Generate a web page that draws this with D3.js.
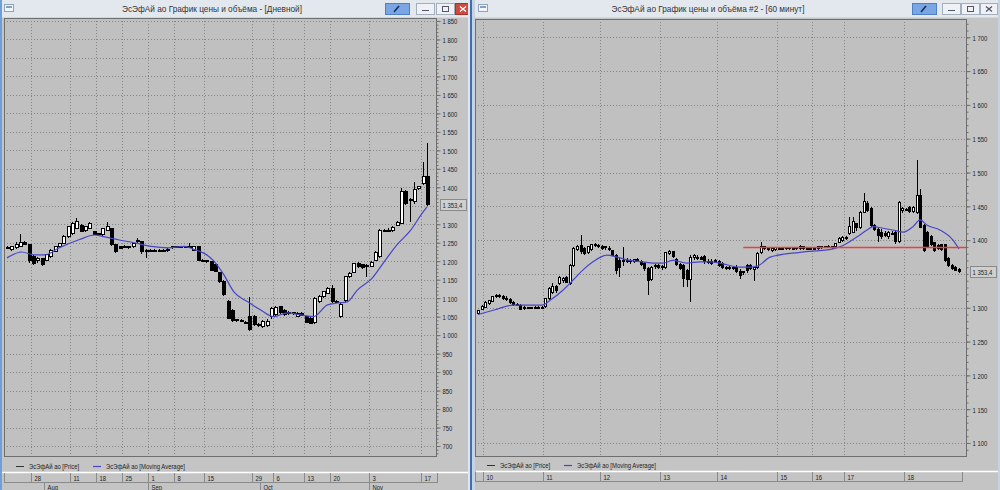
<!DOCTYPE html>
<html><head><meta charset="utf-8">
<script src="https://cdn.jsdelivr.net/npm/d3@7"></script>
<style>
html,body{margin:0;padding:0;background:#c4c4c4;overflow:hidden;}
svg{display:block;font-family:"Liberation Sans",Arial,sans-serif;}
</style></head><body>
<svg id="c" width="1000" height="490"></svg>
<script>
// ---------------- DATA ----------------
// Daily candles [open, high, low, close]
const leftOHLC = [
[1238,1242,1232,1235],[1232,1242,1228,1240],[1236,1252,1234,1244],[1240,1275,1238,1252],[1250,1254,1244,1246],
[1244,1246,1195,1203],[1212,1216,1190,1194],[1202,1212,1196,1208],[1208,1210,1186,1190],[1203,1220,1200,1217],
[1212,1232,1210,1230],[1226,1242,1224,1239],[1239,1250,1236,1248],[1248,1270,1246,1266],[1266,1295,1262,1293],
[1275,1305,1272,1302],[1289,1316,1286,1307],[1298,1300,1278,1280],[1284,1296,1280,1293],[1289,1305,1286,1302],
[1280,1282,1270,1271],[1275,1277,1268,1271],[1271,1290,1268,1289],[1284,1307,1282,1293],[1289,1291,1242,1244],
[1244,1246,1222,1226],[1239,1242,1232,1235],[1240,1243,1236,1238],[1237,1240,1234,1239],[1239,1248,1237,1248],
[1253,1262,1250,1257],[1253,1256,1220,1226],[1230,1233,1208,1228],[1230,1233,1226,1228],[1228,1232,1226,1230],
[1230,1233,1226,1229],[1228,1232,1225,1230],[1232,1236,1226,1233],[1236,1240,1234,1239],[1239,1242,1236,1240],
[1240,1242,1237,1238],[1238,1242,1236,1240],[1239,1250,1237,1241],[1230,1242,1228,1239],[1239,1241,1200,1203],
[1203,1205,1198,1200],[1199,1203,1196,1201],[1199,1201,1174,1176],[1190,1192,1170,1172],[1170,1172,1140,1145],
[1145,1148,1105,1109],[1091,1094,1044,1046],[1068,1072,1035,1040],[1041,1045,1036,1040],[1040,1044,1035,1039],
[1034,1038,1030,1033],[1050,1104,1012,1014],[1050,1055,1025,1028],[1030,1034,1022,1026],[1024,1040,1020,1036],
[1026,1044,1022,1038],[1050,1077,1045,1073],[1055,1080,1052,1075],[1077,1079,1058,1060],[1068,1070,1052,1055],
[1060,1064,1055,1058],[1059,1062,1055,1060],[1050,1062,1048,1058],[1059,1062,1052,1054],[1050,1052,1032,1034],
[1045,1048,1030,1032],[1033,1104,1030,1100],[1090,1108,1088,1104],[1104,1120,1100,1118],[1114,1130,1112,1127],
[1127,1136,1088,1091],[1091,1094,1086,1090],[1050,1090,1046,1082],[1093,1160,1090,1158],[1158,1172,1155,1168],
[1170,1195,1168,1194],[1194,1197,1183,1185],[1190,1192,1180,1183],[1185,1192,1157,1188],[1187,1200,1185,1196],
[1203,1228,1200,1224],[1212,1287,1208,1282],[1281,1288,1278,1283],[1283,1290,1280,1282],[1283,1295,1280,1292],
[1298,1310,1296,1306],[1303,1398,1300,1388],[1388,1392,1352,1357],[1366,1372,1306,1368],[1361,1414,1355,1393],
[1396,1404,1392,1402],[1411,1469,1405,1429],[1429,1520,1350,1353.4]
];
// Moving average: [candle index, value]
const leftMA = [
[0,1209],[3.4,1225],[6.4,1217],[8.7,1217],[12,1236],[16.6,1258],[20.2,1271],[22.5,1266],[25.7,1258],
[29.4,1250],[33.3,1240],[37.2,1236],[40.9,1240],[42.5,1235],[47.8,1200],[50.1,1163],[52.4,1117],
[55.6,1090],[58.6,1068],[61.6,1050],[64.8,1060],[67.8,1055],[70.8,1050],[74,1082],[76.3,1087],
[78.6,1090],[80.9,1122],[84.4,1155],[86.9,1195],[90.1,1245],[93.1,1282],[95.9,1330],[97,1347]
];
const leftYTicks = [700,750,800,850,900,950,1000,1050,1100,1150,1200,1250,1300,1350,1400,1450,1500,1550,1600,1650,1700,1750,1800,1850];
const leftYLabelTicks = [700,750,800,850,900,950,1000,1050,1100,1150,1200,1250,1300,1400,1450,1500,1550,1600,1650,1700,1750,1800,1850];
const leftXTickIdx = [6,15,21,27,33,39,46,57,62,69,75,84,96];
const leftXTickLabels = ["28","11","18","25","1","8","15","29","6","13","20","3","17"];
const leftMonthIdx = [9,33,59,84];
const leftMonthLabels = ["Aug","Sep","Oct","Nov"];

// Hourly candles [open, high, low, close]
const rightOHLC = [
[1292,1297,1290,1296],[1298,1304,1296,1302],[1301,1310,1300,1308],[1306,1312,1304,1311],[1309,1318,1308,1316],
[1316,1320,1314,1318],[1318,1320,1315,1317],[1317,1319,1312,1313],[1314,1317,1310,1312],[1312,1314,1306,1308],
[1308,1310,1303,1305],[1305,1307,1302,1303],[1304,1306,1296,1298],[1300,1302,1296,1299],[1299,1301,1298,1300],
[1300,1301,1299,1300],[1300,1302,1299,1301],[1301,1302,1299,1300],[1300,1302,1298,1301],[1302,1315,1300,1313],
[1314,1331,1312,1329],[1322,1336,1320,1332],[1332,1334,1322,1325],[1336,1347,1334,1345],[1340,1346,1336,1344],
[1345,1347,1336,1338],[1336,1365,1334,1363],[1363,1390,1361,1388],[1386,1393,1384,1390],[1392,1408,1380,1383],
[1388,1390,1378,1380],[1381,1392,1379,1390],[1386,1395,1384,1393],[1392,1396,1390,1394],[1392,1394,1388,1390],
[1390,1393,1386,1388],[1389,1392,1386,1390],[1388,1391,1384,1386],[1384,1386,1376,1378],[1377,1379,1350,1355],
[1370,1374,1345,1360],[1368,1390,1362,1370],[1370,1373,1366,1368],[1368,1372,1365,1370],[1369,1372,1366,1371],
[1371,1373,1367,1369],[1368,1370,1362,1364],[1366,1368,1355,1358],[1358,1360,1319,1341],[1342,1362,1340,1360],
[1361,1364,1358,1362],[1362,1364,1357,1359],[1359,1363,1356,1361],[1360,1383,1358,1382],[1380,1385,1378,1383],
[1383,1384,1374,1376],[1372,1374,1362,1364],[1364,1366,1356,1358],[1362,1364,1331,1344],[1355,1358,1330,1342],
[1342,1378,1308,1375],[1374,1380,1370,1377],[1375,1378,1370,1373],[1374,1376,1370,1372],[1376,1378,1365,1368],
[1368,1372,1364,1367],[1368,1372,1363,1365],[1370,1372,1366,1368],[1368,1370,1360,1362],[1366,1368,1358,1360],
[1360,1362,1356,1358],[1358,1362,1356,1360],[1360,1362,1356,1358],[1360,1363,1352,1354],[1354,1358,1343,1348],
[1352,1355,1348,1353],[1362,1364,1352,1355],[1362,1364,1356,1358],[1356,1360,1340,1359],[1360,1382,1358,1380],
[1382,1397,1380,1390],[1390,1392,1385,1387],[1386,1389,1384,1387],[1385,1390,1383,1388],[1386,1390,1384,1389],
[1387,1390,1385,1388],[1388,1390,1386,1388],[1388,1390,1386,1389],[1389,1390,1386,1387],[1387,1389,1385,1388],
[1388,1390,1386,1389],[1388,1393,1386,1391],[1390,1392,1386,1388],[1388,1390,1386,1387],[1388,1390,1386,1388],
[1387,1389,1385,1388],[1388,1391,1386,1390],[1390,1392,1387,1389],[1389,1392,1388,1391],[1391,1393,1388,1390],
[1390,1392,1387,1391],[1390,1396,1389,1395],[1397,1404,1396,1403],[1399,1406,1397,1404],[1403,1406,1400,1404],
[1410,1434,1408,1420],[1412,1434,1410,1428],[1424,1426,1414,1418],[1418,1443,1416,1441],[1441,1469,1440,1457],
[1454,1458,1442,1444],[1447,1449,1420,1422],[1422,1424,1413,1416],[1416,1418,1397,1407],[1412,1416,1402,1405],
[1410,1413,1404,1407],[1405,1414,1402,1412],[1410,1413,1407,1409],[1411,1413,1395,1398],[1398,1458,1396,1456],
[1444,1449,1440,1447],[1445,1448,1443,1446],[1448,1450,1440,1442],[1442,1450,1440,1448],[1441,1519,1438,1466],
[1466,1475,1418,1419],[1422,1424,1383,1385],[1411,1413,1388,1390],[1405,1407,1391,1393],[1396,1398,1383,1385],
[1392,1394,1386,1388],[1393,1395,1384,1386],[1393,1395,1368,1370],[1373,1375,1360,1362],[1362,1364,1356,1358],
[1360,1362,1354,1355],[1357,1359,1351,1353.4]
];
const rightMA = [
[0,1290],[4.8,1297],[9.9,1304],[18.1,1304],[20.4,1311],[24,1326],[26.9,1341],[29.7,1356],[32.5,1368],
[36.5,1378],[39.3,1375],[43,1370],[46.6,1368],[49.5,1366],[52.3,1366],[55.1,1370],[59.1,1366],[62.8,1368],
[65.6,1368],[68.4,1366],[74.1,1360],[76.9,1360],[79.2,1362],[82.6,1375],[91,1382],[100.4,1387],[103.2,1392],
[107.2,1405],[110,1415],[111.7,1420],[114.2,1418],[117.3,1415],[120.2,1412],[123,1420],[125,1430],[127,1422],
[130.6,1415],[134.3,1400],[136,1387]
];
const rightYTicks = [1100,1150,1200,1250,1300,1350,1400,1450,1500,1550,1600,1650,1700];
const rightYLabelTicks = [1100,1150,1200,1250,1300,1400,1450,1500,1550,1600,1650,1700];
const rightXTickIdx = [2,19,35,52,68,85,95,104,121];
const rightXTickLabels = ["10","11","12","13","14","15","16","17","18"];
const rightLevel = 1390;          // red horizontal level
const rightLevelStartIdx = 75;
const lastPrice = 1353.4;
const lastPriceLabel = "1 353,4";

const leftTitle = "ЭсЭфАй ао График цены и объёма - [Дневной]";
const rightTitle = "ЭсЭфАй ао График цены и объёма #2 - [60 минут]";
const legendPrice = "ЭсЭфАй ао [Price]";
const legendMA = "ЭсЭфАй ао [Moving Average]";

// ---------------- DRAWING ----------------
const svg = d3.select('#c');
const SX = 0.74;
function txt(parent, x, y, s, o = {}) {
  return parent.append('text')
    .attr('transform', `translate(${x},${y}) scale(${o.sx || SX},1)`)
    .attr('font-size', o.size || 8)
    .attr('text-anchor', o.anchor || 'start')
    .attr('dominant-baseline', 'central')
    .attr('fill', o.fill || '#1e1e1e')
    .text(s);
}
const fmtY = v => v >= 1000 ? Math.floor(v / 1000) + ' ' + String(v % 1000).padStart(3, '0') : String(v);

function windowChrome(o) {
  const g = svg.append('g');
  g.append('rect').attr('x', o.wx).attr('y', 0).attr('width', o.ww).attr('height', 490).attr('fill', '#c4c4c4');
  g.append('rect').attr('x', o.wx).attr('y', 0).attr('width', o.ww).attr('height', 17).attr('fill', '#e3e8ee');
  g.append('line').attr('x1', o.wx).attr('x2', o.wx + o.ww).attr('y1', 17.5).attr('y2', 17.5).attr('stroke', '#d2d8df');
  g.append('rect').attr('x', o.wx + 4.5).attr('y', 4.5).attr('width', 9).attr('height', 7).attr('fill', '#f3f5f8').attr('stroke', '#8fa2b8');
  g.append('rect').attr('x', o.wx + 6).attr('y', 6).attr('width', 6).attr('height', 2).attr('fill', '#7fa0c8');
  txt(g, o.titleX, 9, o.title, { size: 9, sx: 0.92, anchor: 'middle', fill: '#333' });
  const b = o.btn;
  g.append('rect').attr('x', b[0] + 0.5).attr('y', 3.5).attr('width', 24).attr('height', 11).attr('fill', '#7aa6e6').attr('stroke', '#4f7fc4');
  g.append('line').attr('x1', b[0] + 9).attr('y1', 12).attr('x2', b[0] + 14).attr('y2', 6).attr('stroke', '#1c2f5a').attr('stroke-width', 1.6);
  g.append('rect').attr('x', b[1] + 0.5).attr('y', 3.5).attr('width', 18).attr('height', 11).attr('fill', '#eef1f5').attr('stroke', '#a3afbd');
  g.append('line').attr('x1', b[1] + 6).attr('x2', b[1] + 13).attr('y1', 10.5).attr('y2', 10.5).attr('stroke', '#556');
  g.append('rect').attr('x', b[2] + 0.5).attr('y', 3.5).attr('width', 18).attr('height', 11).attr('fill', '#eef1f5').attr('stroke', '#a3afbd');
  g.append('rect').attr('x', b[2] + 6.5).attr('y', 6.5).attr('width', 6).attr('height', 5).attr('fill', 'none').attr('stroke', '#556');
  g.append('rect').attr('x', b[3] + 0.5).attr('y', 3.5).attr('width', o.closeW).attr('height', 11)
    .attr('fill', o.active ? '#cf4a3f' : '#eef1f5').attr('stroke', o.active ? '#a83228' : '#a3afbd');
  const cx = b[3] + o.closeW / 2 + 0.5;
  g.append('path').attr('d', `M${cx - 3},${6.5}L${cx + 3},${11.5}M${cx + 3},${6.5}L${cx - 3},${11.5}`)
    .attr('stroke', o.active ? '#fff' : '#556').attr('stroke-width', 1.3);
}

function panel(o) {
  const g = svg.append('g');
  const x = d3.scaleLinear().domain([0, o.data.length - 1]).range(o.xRange);
  const y = d3.scaleLinear().domain(o.yDom).range(o.yRange);
  const clip = 'clip' + o.id;
  g.append('clipPath').attr('id', clip).append('rect')
    .attr('x', o.px0).attr('y', o.py0).attr('width', o.px1 - o.px0).attr('height', o.py1 - o.py0);
  g.append('rect').attr('x', o.px0).attr('y', o.py0).attr('width', o.px1 - o.px0).attr('height', o.py1 - o.py0).attr('fill', '#c0c0c0');
  const grid = g.append('g').attr('stroke', '#858585').attr('stroke-dasharray', '1,2').attr('stroke-width', 1);
  o.yTicks.forEach(v => {
    const yy = Math.round(y(v)) + 0.5;
    if (yy > o.py0 + 1 && yy < o.py1 - 1)
      grid.append('line').attr('x1', o.px0).attr('x2', o.px1).attr('y1', yy).attr('y2', yy);
  });
  o.xTickIdx.forEach(i => {
    const xx = Math.round(x(i - 0.5)) + 0.5;
    grid.append('line').attr('x1', xx).attr('x2', xx).attr('y1', o.py0).attr('y2', o.py1);
  });
  const body = g.append('g').attr('clip-path', `url(#${clip})`);
  const cg = body.append('g').attr('shape-rendering', 'crispEdges');
  o.data.forEach((d, i) => {
    const [op, hi, lo, cl] = d;
    const cx = Math.round(x(i)) + 0.5;
    cg.append('line').attr('x1', cx).attr('x2', cx).attr('y1', y(hi)).attr('y2', y(lo)).attr('stroke', '#000');
    const top = y(Math.max(op, cl)), bot = y(Math.min(op, cl));
    cg.append('rect').attr('x', cx - o.bw / 2).attr('y', top).attr('width', o.bw).attr('height', Math.max(1, bot - top))
      .attr('fill', cl >= op ? '#ffffff' : '#000000').attr('stroke', '#000').attr('stroke-width', 1);
  });
  const line = d3.line().x(d => x(d[0])).y(d => y(d[1])).curve(d3.curveMonotoneX);
  body.append('path').datum(o.ma).attr('d', line).attr('fill', 'none').attr('stroke', '#4646c8').attr('stroke-width', 1.2);
  if (o.level) {
    const yy = Math.round(y(o.level[1])) + 0.5;
    body.append('line').attr('x1', x(o.level[0])).attr('x2', o.px1).attr('y1', yy).attr('y2', yy)
      .attr('stroke', '#e8403a').attr('stroke-width', 1.6);
  }
  g.append('rect').attr('x', o.px0 + 0.5).attr('y', o.py0 + 0.5).attr('width', o.px1 - o.px0 - 1).attr('height', o.py1 - o.py0 - 1)
    .attr('fill', 'none').attr('stroke', '#6e6e6e');
  const ax = g.append('g').attr('transform', `translate(${o.px1 - 0.5},0)`)
    .call(d3.axisRight(y).tickValues(o.yLabelTicks).tickSize(4).tickFormat(fmtY));
  ax.select('.domain').remove();
  ax.selectAll('line').attr('stroke', '#6e6e6e');
  ax.selectAll('text').attr('x', null).attr('dy', null).attr('dominant-baseline', 'central')
    .attr('transform', `translate(6,0) scale(${SX},1)`).attr('font-size', 8).attr('font-family', null).attr('fill', '#1e1e1e');
  const minor = d3.range(Math.ceil(o.yDomVis[0] / 10) * 10, o.yDomVis[1], 10);
  const axm = g.append('g').attr('transform', `translate(${o.px1 - 0.5},0)`)
    .call(d3.axisRight(y).tickValues(minor).tickSize(2).tickFormat(''));
  axm.select('.domain').remove();
  axm.selectAll('line').attr('stroke', '#6e6e6e');
  const ly = y(lastPrice);
  g.append('rect').attr('x', o.px1 + 3.5).attr('y', Math.round(ly) - 5.5).attr('width', 26).attr('height', 11)
    .attr('fill', '#cfcfcf').attr('stroke', '#8a8a8a');
  txt(g, o.px1 + 5.5, Math.round(ly), lastPriceLabel, { size: 8 });
  const lg = g.append('g');
  lg.append('line').attr('x1', o.px0 + 12).attr('x2', o.px0 + 20).attr('y1', o.legY + 0.5).attr('y2', o.legY + 0.5).attr('stroke', '#333');
  txt(lg, o.px0 + 25, o.legY, legendPrice, { size: 8 });
  lg.append('line').attr('x1', o.px0 + 89).attr('x2', o.px0 + 97).attr('y1', o.legY + 0.5).attr('y2', o.legY + 0.5).attr('stroke', '#4646c8').attr('stroke-width', 1.2);
  txt(lg, o.px0 + 102, o.legY, legendMA, { size: 8 });
  g.append('line').attr('x1', o.wx + 2).attr('x2', o.wx + o.ww - 2).attr('y1', o.stripY + 0.5).attr('y2', o.stripY + 0.5).attr('stroke', '#ffffff').attr('stroke-width', 1.5);
  const xa = g.append('g').attr('transform', `translate(0,${o.stripY + 1})`)
    .call(d3.axisBottom(x).tickValues(o.xTickIdx.map(i => i - 0.5)).tickSize(10).tickFormat((d, k) => o.xTickLabels[k]));
  xa.select('.domain').remove();
  xa.selectAll('.tick').attr('transform', d => `translate(${Math.round(x(d)) + 0.5},0)`);
  xa.selectAll('line').attr('stroke', '#8a8a8a');
  xa.selectAll('text').attr('y', null).attr('dy', null).attr('text-anchor', 'start').attr('dominant-baseline', 'central')
    .attr('transform', `translate(3,5) scale(${SX},1)`).attr('font-size', 8).attr('font-family', null).attr('fill', '#1e1e1e');
  g.append('line').attr('x1', o.px0).attr('x2', o.axEnd).attr('y1', o.stripY + 10.5).attr('y2', o.stripY + 10.5).attr('stroke', '#8a8a8a');
  g.append('line').attr('x1', o.axEnd + 0.5).attr('x2', o.axEnd + 0.5).attr('y1', o.stripY + 1).attr('y2', o.stripY + 11).attr('stroke', '#8a8a8a');
  g.append('line').attr('x1', o.px0 + 0.5).attr('x2', o.px0 + 0.5).attr('y1', o.stripY + 1).attr('y2', o.stripY + 11).attr('stroke', '#8a8a8a');
  if (o.months) {
    const ma = g.append('g').attr('transform', `translate(0,${o.stripY + 11})`)
      .call(d3.axisBottom(x).tickValues(o.months.map(i => i - 0.5)).tickSize(8).tickFormat((d, k) => o.monthLabels[k]));
    ma.select('.domain').remove();
    ma.selectAll('.tick').attr('transform', d => `translate(${Math.round(x(d)) + 0.5},0)`);
    ma.selectAll('line').attr('stroke', '#8a8a8a');
    ma.selectAll('text').attr('y', null).attr('dy', null).attr('text-anchor', 'start').attr('dominant-baseline', 'central')
      .attr('transform', `translate(3,4) scale(${SX},1)`).attr('font-size', 8).attr('font-family', null).attr('fill', '#1e1e1e');
  }
}

windowChrome({ wx: 0, ww: 470, titleX: 212, title: leftTitle, btn: [385, 416, 436, 455], closeW: 15, active: true });
panel({
  id: 'L', data: leftOHLC, ma: leftMA, wx: 0, ww: 470,
  xRange: [7, 427], yDom: [700, 1850], yRange: [446, 21], yDomVis: [672, 1860],
  px0: 4, px1: 437, py0: 18, py1: 457, bw: 3,
  yTicks: leftYTicks, yLabelTicks: leftYLabelTicks,
  xTickIdx: leftXTickIdx, xTickLabels: leftXTickLabels,
  months: leftMonthIdx, monthLabels: leftMonthLabels,
  legY: 466, stripY: 472, axEnd: 437
});
windowChrome({ wx: 474, ww: 526, titleX: 708, title: rightTitle, btn: [912, 942, 961, 980], closeW: 17, active: false });
panel({
  id: 'R', data: rightOHLC, ma: rightMA, wx: 474, ww: 526,
  xRange: [478, 959], yDom: [1100, 1700], yRange: [443, 37.3], yDomVis: [1085, 1725],
  px0: 475, px1: 967, py0: 19, py1: 457, bw: 2,
  yTicks: rightYTicks, yLabelTicks: rightYLabelTicks,
  xTickIdx: rightXTickIdx, xTickLabels: rightXTickLabels,
  level: [rightLevelStartIdx, rightLevel],
  legY: 465, stripY: 471, axEnd: 962
});
svg.append('rect').attr('x', 0).attr('y', 0).attr('width', 2).attr('height', 490).attr('fill', '#6f9fd8');
svg.append('rect').attr('x', 468).attr('y', 0).attr('width', 2).attr('height', 490).attr('fill', '#dfe6ee');
svg.append('rect').attr('x', 470).attr('y', 0).attr('width', 2).attr('height', 490).attr('fill', '#3c6fb0');
svg.append('rect').attr('x', 472).attr('y', 0).attr('width', 3).attr('height', 490).attr('fill', '#c9d3df');
svg.append('rect').attr('x', 998).attr('y', 0).attr('width', 2).attr('height', 490).attr('fill', '#c9d3df');
</script>
</body></html>
